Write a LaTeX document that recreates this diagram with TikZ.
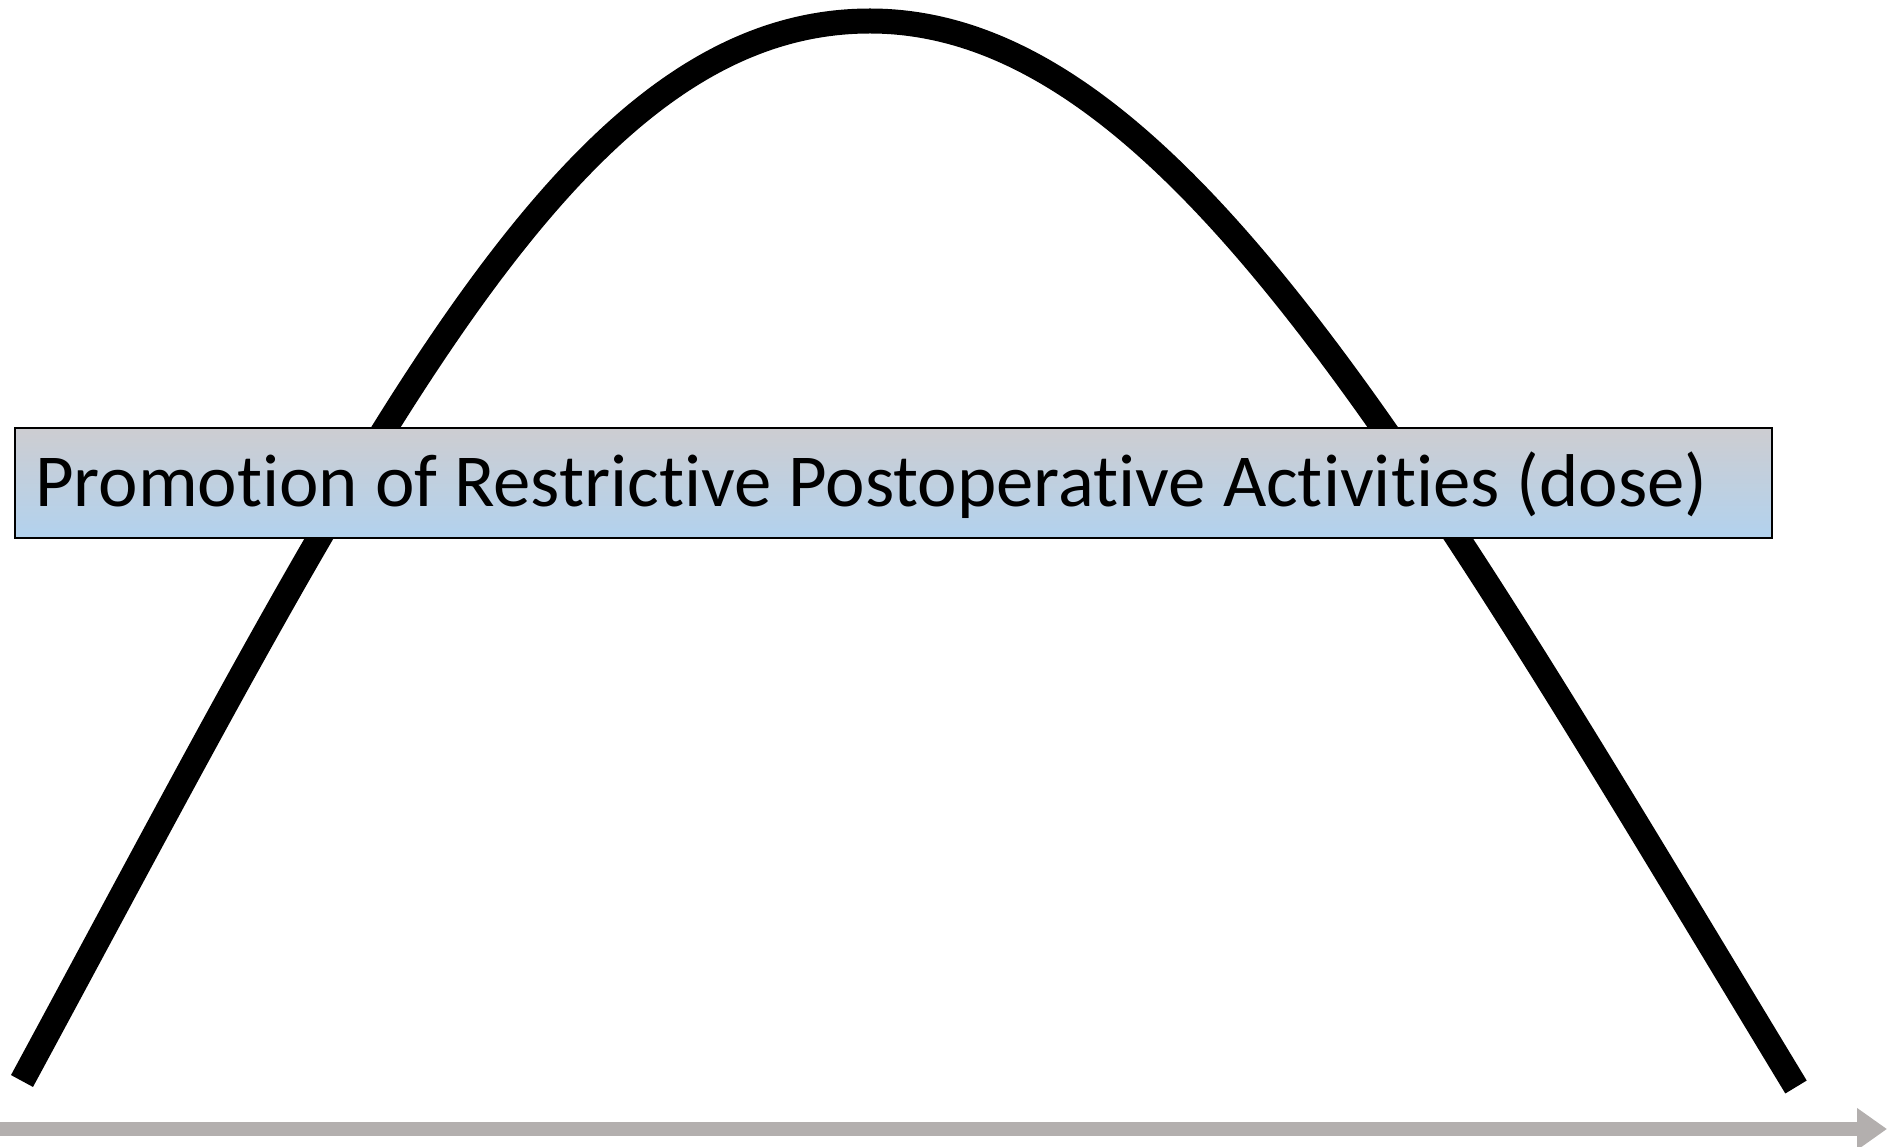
\documentclass[tikz,border=0pt]{standalone}
\usepackage{fontspec}
\setmainfont{Carlito}[Ligatures={NoCommon}]
\usetikzlibrary{arrows.meta}
\definecolor{axisgray}{RGB}{179,175,174}
\definecolor{boxtop}{RGB}{205,205,209}
\definecolor{boxbot}{RGB}{178,210,238}
\tikzset{
  dosecurve/.style={line width=25pt, black},
  labelbox/.style={draw=black, line width=2pt, top color=boxtop, bottom color=boxbot, minimum width=1757pt, minimum height=110pt, inner sep=0pt},
  labeltext/.style={font=\fontsize{74.8}{88}\selectfont, inner sep=0pt},
  axisline/.style={axisgray, line width=14pt, -{Triangle[length=30pt,width=40pt]}}
}
\begin{document}
\begin{tikzpicture}[x=1pt,y=-1pt]
\useasboundingbox (0,0) rectangle (1887,1147);
% dose-response curve
\coordinate (cstart) at (22,1081);
\coordinate (cpeak) at (870,21);
\coordinate (cend) at (1796,1087);
\draw[dosecurve] (cstart) .. controls (372,433.5) and (570,21) .. (cpeak)
  .. controls (1170,21) and (1416,460) .. (cend);
% label box
\node[labelbox, anchor=north west] (box) at (14,427) {};
\node[labeltext, anchor=base west] (label) at (35,506) {Promotion of Restrictive Postoperative Activities (dose)};
% axis
\coordinate (axstart) at (0,1129);
\coordinate (axend) at (1887,1129);
\draw[axisline] (axstart) -- (axend);
\end{tikzpicture}
\end{document}
